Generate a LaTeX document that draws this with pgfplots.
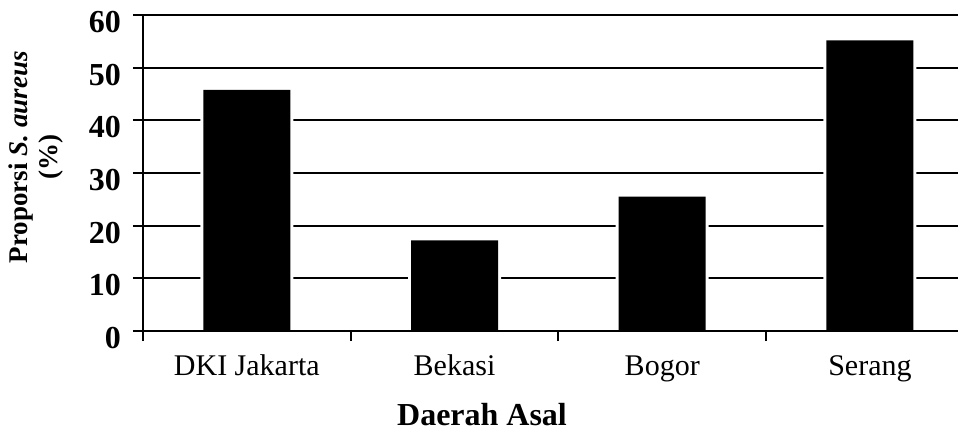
\documentclass[border=0pt]{standalone}
\usepackage{fontspec}
\setmainfont{Liberation Serif}
\usepackage{pgfplots}
\usepackage{pgfplotstable}
\pgfplotsset{compat=1.18}
\pgfplotsset{
  layers/lines on top/.define layer set={
    axis background,axis grid,main,axis ticks,axis lines,axis tick labels,axis descriptions,axis foreground
  }{/pgfplots/layers/standard},
}
\pgfplotstableread{
x y
0 45.8
1 17.2
2 25.5
3 55.2
}\datatable
\begin{document}
\begin{tikzpicture}
\begin{axis}[
  set layers=lines on top,
  scale only axis,
  width=407.5pt, height=158pt,
  xmin=-0.5, xmax=3.424,
  ymin=0, ymax=60,
  axis x line=bottom, axis y line=left,
  axis line style={-, line width=1pt, black},
  ytick={0,10,...,60},
  ymajorgrids,
  grid style={line width=0.9pt, black},
  xtick={-0.5,0.5,1.5,2.5},
  xticklabels={},
  extra x ticks={0,1,2,3},
  extra x tick labels={DKI Jakarta,Bekasi,Bogor,Serang},
  extra x tick style={tick style={draw=none}},
  tick align=outside,
  major tick length=5pt,
  tick style={line width=0.9pt, black},
  /pgf/number format/assume math mode=true,
  yticklabel style={font=\fontsize{16}{18}\selectfont\bfseries, xshift=-2.5pt, yshift=-3.5pt},
  xticklabel style={font=\fontsize{15}{18}\selectfont, anchor=base, yshift=-17pt},
  xlabel={Daerah Asal},
  xlabel style={at={(rel axis cs:0.416,0)}, anchor=base, yshift=-47pt, font=\fontsize{16}{19}\selectfont\bfseries},
  ylabel={Proporsi \textit{S. aureus}\\(\%)},
  ylabel style={at={(rel axis cs:0,0.55)}, anchor=center, yshift=53.5pt, align=center, font=\fontsize{13.5}{15}\selectfont\bfseries},
]
\addplot[ybar, bar width=46.5pt, bar shift=0pt, fill=white, draw=none] table[x=x,y=y]{\datatable};
\addplot[ybar, bar width=43.5pt, bar shift=0pt, fill=black, draw=none] table[x=x,y=y]{\datatable};
\end{axis}
\pgfresetboundingbox
\path[use as bounding box] ([shift={(-71.5pt,-49.5pt)}]current axis.south west) rectangle ([shift={(407.5pt,165.5pt)}]current axis.south west);
\end{tikzpicture}
\end{document}
